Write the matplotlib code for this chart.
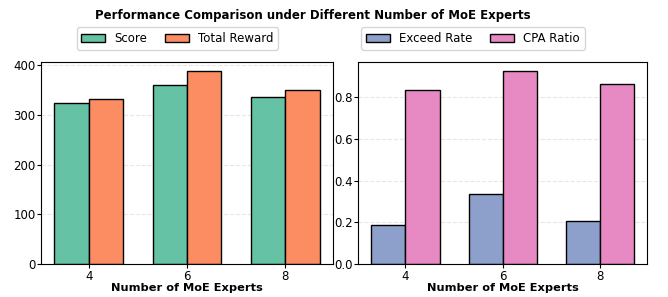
import numpy as np
import matplotlib
matplotlib.use('Agg')
import matplotlib.pyplot as plt

experts = ['4', '6', '8']
score = [324, 359, 335]
total_reward = [331, 387, 349]
exceed_rate = [0.188, 0.335, 0.207]
cpa_ratio = [0.834, 0.923, 0.864]

colors = ['#66c2a5', '#fc8d62', '#8da0cb', '#e78ac3']
W, H = 668, 297
fig = plt.figure(figsize=(W / 100, H / 100), dpi=100)

ax1 = fig.add_axes([41 / W, 1 - 264.3 / H, (333 - 41) / W, (264.3 - 61.7) / H])
ax2 = fig.add_axes([358.3 / W, 1 - 264.3 / H, (647.3 - 358.3) / W, (264.3 - 61.7) / H])

x = np.arange(len(experts))
w = 0.35

def draw(ax, a, b, la, lb, ca, cb):
    ax.bar(x - w / 2, a, w, color=ca, edgecolor='black', linewidth=1, label=la)
    ax.bar(x + w / 2, b, w, color=cb, edgecolor='black', linewidth=1, label=lb)
    ax.set_xticks(x)
    ax.set_xticklabels(experts)
    ax.set_xlabel('Number of MoE Experts', fontsize=8.2, fontweight='bold', labelpad=0)
    ax.grid(axis='y', linestyle='--', alpha=0.3)
    ax.set_axisbelow(True)
    ax.tick_params(labelsize=8.5, length=3, pad=1)

draw(ax1, score, total_reward, 'Score', 'Total Reward', colors[0], colors[1])
draw(ax2, exceed_rate, cpa_ratio, 'Exceed Rate', 'CPA Ratio', colors[2], colors[3])
ax1.set_ylim(0, 406.6)
ax1.set_yticks([0, 100, 200, 300, 400])
ax2.set_ylim(0, 0.969)
ax2.set_yticks([0, 0.2, 0.4, 0.6, 0.8])

h1, l1 = ax1.get_legend_handles_labels()
fig.legend(h1, l1, loc='center', bbox_to_anchor=(177.5 / W, 1 - 38.5 / H), ncol=2,
           fontsize=8.5, frameon=True, columnspacing=1.5, handlelength=2)
h2, l2 = ax2.get_legend_handles_labels()
fig.legend(h2, l2, loc='center', bbox_to_anchor=(473 / W, 1 - 38.5 / H), ncol=2,
           fontsize=8.5, frameon=True, columnspacing=1.5, handlelength=2)

fig.text(312.5 / W, 1 - 15 / H, 'Performance Comparison under Different Number of MoE Experts',
         ha='center', va='center', fontsize=8.5, fontweight='bold')

fig.savefig('out.png', dpi=100)
